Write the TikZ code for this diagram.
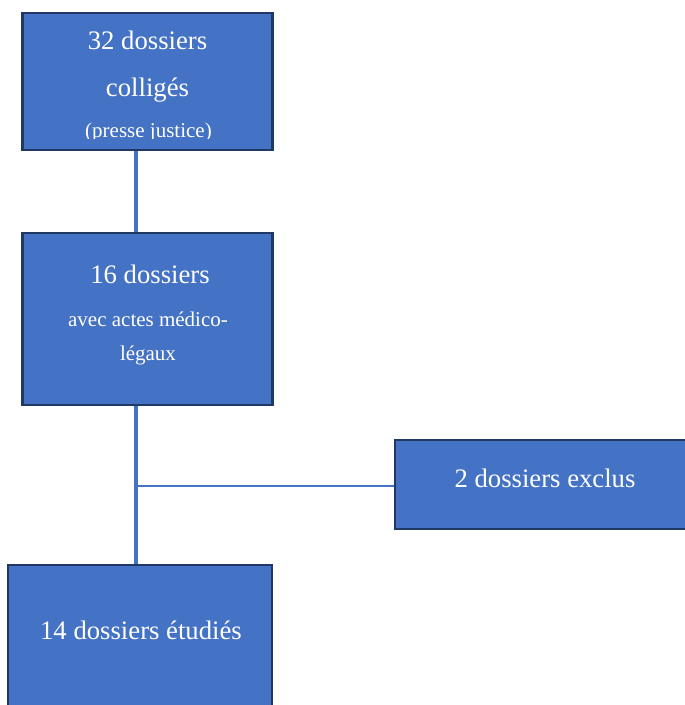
\documentclass[tikz,border=0pt]{standalone}
\usepackage{fontspec}
\setmainfont{Liberation Serif}
\definecolor{boxfill}{HTML}{4472C4}
\definecolor{boxline}{HTML}{1F3864}
\definecolor{linkcol}{HTML}{4472C4}
\pgfdeclarelayer{background}
\pgfsetlayers{background,main}
\begin{document}
\begin{tikzpicture}[x=1pt,y=-1pt,
  box/.style={draw=boxline,fill=boxfill,line width=2.2pt,rectangle,inner sep=0pt},
  big/.style={text=white,anchor=base,inner sep=0pt,font=\fontsize{26.7}{30}\selectfont},
  small/.style={text=white,anchor=base,inner sep=0pt,font=\fontsize{21}{24}\selectfont},
  thicklink/.style={draw=linkcol,line width=4pt},
  thinlink/.style={draw=linkcol,line width=1.1pt}]
\useasboundingbox (0,0) rectangle (685,705);
\clip (0,0) rectangle (685,705);
% junction coordinate
\coordinate (j) at (136,486);
% boxes
\node[box,minimum width=250pt,minimum height=137pt] (b1) at (147.5,81.5) {};
\node[box,minimum width=250pt,minimum height=172pt] (b2) at (147.5,319) {};
\node[box,minimum width=300pt,minimum height=89pt] (b3) at (545,484.5) {};
\node[box,minimum width=264pt,minimum height=180pt] (b4) at (140,655) {};
% connectors (behind boxes)
\begin{pgfonlayer}{background}
\draw[thicklink] (j |- b1.south) -- (j |- b2.north);
\draw[thicklink] (j |- b2.south) -- (j |- b4.north);
\draw[thinlink] (j) -- (j -| b3.west);
\end{pgfonlayer}
% texts
\node[big] (t1a) at (147.5,49) {32 dossiers};
\node[big] (t1b) at (147.5,96) {colligés};
\begin{scope}
\clip (20,100) rectangle (275,138.5);
\node[small] (t1c) at (148.5,137) {(presse justice)};
\end{scope}
\node[big] (t2a) at (150,283) {16 dossiers};
\node[small] (t2b) at (148,326) {avec actes médico-};
\node[small] (t2c) at (148,360) {légaux};
\node[big] (t3) at (545,487) {2 dossiers exclus};
\node[big] (t4) at (141,639) {14 dossiers étudiés};
\end{tikzpicture}
\end{document}
